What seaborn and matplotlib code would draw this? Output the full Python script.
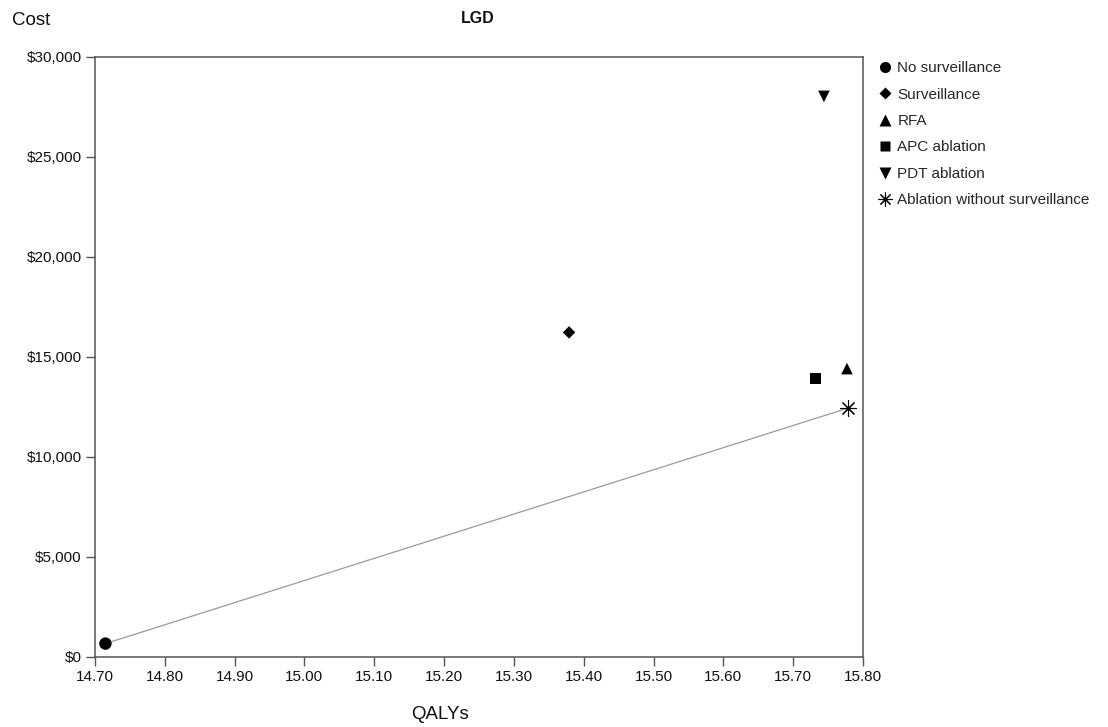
import matplotlib
matplotlib.use("Agg")
import matplotlib.pyplot as plt
import seaborn as sns
import pandas as pd
from matplotlib.ticker import FuncFormatter, MultipleLocator
from matplotlib.lines import Line2D

strategies = ["No surveillance", "Surveillance", "RFA", "APC ablation", "PDT ablation",
              "Ablation without surveillance"]
qalys = [14.715, 15.379, 15.777, 15.732, 15.744, 15.779]
costs = [670, 16230, 14420, 13920, 28030, 12450]
frontier = ["No surveillance", "Ablation without surveillance"]

markers = ["o", "D", "^", "s", "v", (8, 2, 0)]
msizes = [80, 40, 70, 60, 70, 130]

sns.set_theme(style="white")
plt.rcParams["font.family"] = ["Liberation Sans", "DejaVu Sans"]

df = pd.DataFrame({"strategy": strategies, "QALYs": qalys, "Cost": costs})

fig = plt.figure(figsize=(11.08, 7.27), dpi=100)
ax = fig.add_axes([0.0857, 0.0963, 0.6932, 0.8253])

fr = df[df["strategy"].isin(frontier)].sort_values("QALYs")
sns.lineplot(data=fr, x="QALYs", y="Cost", ax=ax, color="#9a9a9a", linewidth=0.9,
             sort=True, zorder=1)

handles = []
for i, row in df.iterrows():
    m = markers[i]
    if isinstance(m, tuple):
        sns.scatterplot(x=[row["QALYs"]], y=[row["Cost"]], ax=ax, marker=m, s=msizes[i],
                        color="black", linewidths=0.8, edgecolor="black", zorder=3)
        handles.append(Line2D([], [], marker=m, linestyle="none", color="black",
                              markersize=10, markeredgewidth=0.8, label=row["strategy"]))
    else:
        sns.scatterplot(x=[row["QALYs"]], y=[row["Cost"]], ax=ax, marker=m, s=msizes[i],
                        color="black", edgecolor="none", zorder=3)
        handles.append(Line2D([], [], marker=m, linestyle="none", color="black",
                              markeredgecolor="none", markersize=[8, 6.5, 8, 7, 8][i],
                              label=row["strategy"]))

ax.set_xlim(14.70, 15.80)
ax.set_ylim(0, 30000)
ax.xaxis.set_major_locator(MultipleLocator(0.1))
ax.yaxis.set_major_locator(MultipleLocator(5000))
ax.xaxis.set_major_formatter(FuncFormatter(lambda v, p: f"{v:.2f}"))
ax.yaxis.set_major_formatter(FuncFormatter(lambda v, p: f"${v:,.0f}"))
ax.tick_params(axis="both", which="major", direction="out", length=6.5, width=1,
               color="#555555", labelsize=11, labelcolor="#111111",
               bottom=True, left=True, pad=3)
for s in ax.spines.values():
    s.set_visible(True)
    s.set_color("#555555")
    s.set_linewidth(1.1)
ax.set_xlabel("")
ax.set_ylabel("")
fig.text(0.4315, 0.975, "LGD", fontsize=11.5, fontweight="bold", ha="center", va="center",
         color="#111111")

fig.text(0.011, 0.972, "Cost", fontsize=13.5, ha="left", va="center", color="#111111")
fig.text(0.397, 0.017, "QALYs", fontsize=13.5, ha="center", va="center", color="#111111")

fig.legend(handles=handles, loc="upper left", bbox_to_anchor=(0.785, 0.924),
           frameon=False, fontsize=11, handletextpad=0.2, labelspacing=0.81,
           borderaxespad=0, handlelength=1.2)

fig.savefig("out.png", dpi=100)
